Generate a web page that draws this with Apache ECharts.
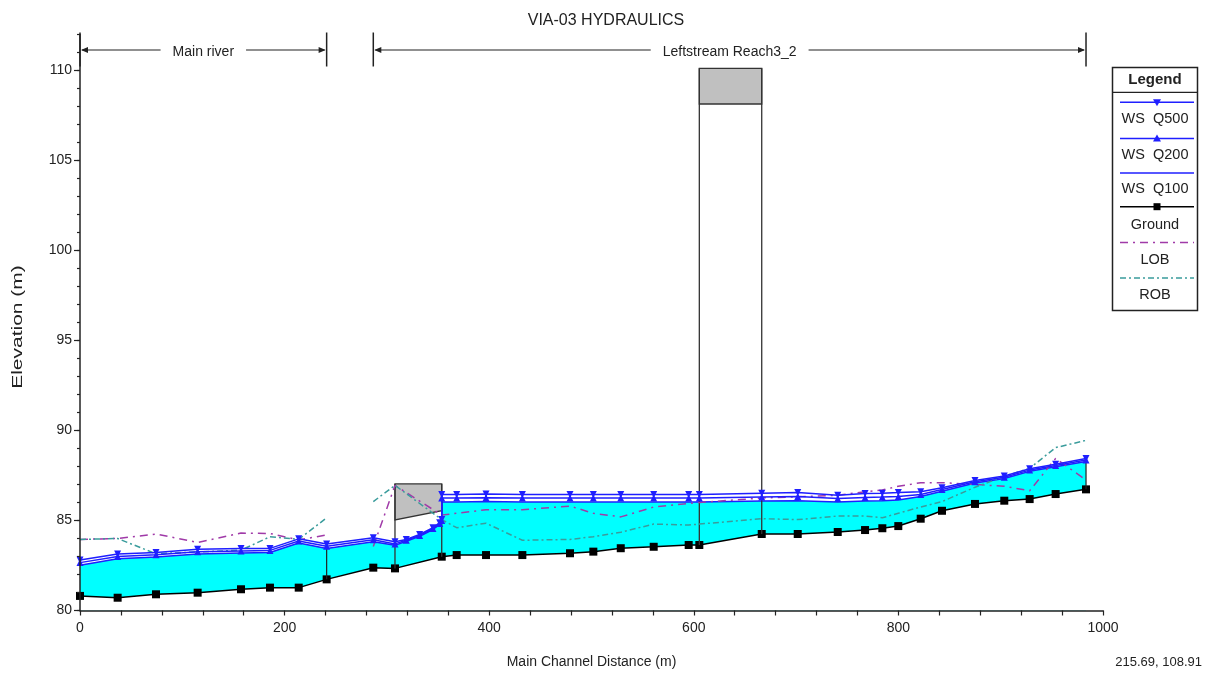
<!DOCTYPE html>
<html><head><meta charset="utf-8">
<script src="https://cdn.jsdelivr.net/npm/echarts@6/dist/echarts.min.js"></script>
<style>html,body{margin:0;padding:0;background:#fff}#c{width:1212px;height:679px}</style>
</head><body><div id="c"></div>
<script>
// ---------------- DATA ----------------
const chartTitle = 'VIA-03 HYDRAULICS';
const xAxisTitle = 'Main Channel Distance (m)';
const yAxisTitle = 'Elevation (m)';
const cursorReadout = '215.69, 108.91';

const groundStations = [0, 36.8, 74.3, 115, 157.4, 185.7, 213.8, 241.1, 286.7, 307.9, 353.6, 368.2, 396.9, 432.4, 479.0, 501.8, 528.6, 560.8, 595.0, 605.4, 666.4, 701.6, 740.7, 767.4, 784.3, 799.9, 821.8, 842.6, 874.9, 903.5, 928.3, 953.7, 983.4];
const groundElev = [80.81, 80.71, 80.90, 80.99, 81.18, 81.27, 81.27, 81.73, 82.38, 82.34, 82.99, 83.08, 83.08, 83.08, 83.18, 83.27, 83.46, 83.54, 83.64, 83.64, 84.25, 84.25, 84.36, 84.47, 84.57, 84.69, 85.10, 85.54, 85.92, 86.10, 86.19, 86.47, 86.73];
const lobElev = [83.95, 84.0, 84.25, 83.78, 84.3, 84.28, 83.92, 84.2, 83.55, 86.95, 85.3, 85.4, 85.6, 85.6, 85.8, 85.4, 85.2, 85.75, 85.95, 86.0, 86.25, 86.32, 86.4, 86.6, 86.7, 86.9, 87.1, 87.1, 87.0, 86.9, 86.65, 88.45, 87.25];
const robElev = [83.95, 84.0, 83.15, 83.25, 83.35, 84.1, 83.95, 85.15, 86.05, 86.95, 85.05, 84.6, 84.85, 83.9, 83.95, 84.1, 84.35, 84.8, 84.75, 84.8, 85.1, 85.05, 85.25, 85.25, 85.15, 85.4, 85.75, 86.05, 86.85, 87.45, 87.9, 89.05, 89.45];

const wsStations = [0, 36.8, 74.3, 115, 157.4, 185.7, 213.8, 241.1, 286.7, 307.9, 318.9, 332, 345, 351.6, 353.6, 353.6, 368.2, 396.9, 432.4, 479.0, 501.8, 528.6, 560.8, 595.0, 605.4, 666.4, 701.6, 740.7, 767.4, 784.3, 799.9, 821.8, 842.6, 874.9, 903.5, 928.3, 953.7, 983.4];
const wsQ100 = [82.52, 82.87, 82.97, 83.14, 83.19, 83.22, 83.75, 83.45, 83.82, 83.62, 83.85, 84.12, 84.5, 84.78, 84.95, 86.03, 86.03, 86.05, 86.03, 86.03, 86.03, 86.03, 86.03, 86.03, 86.03, 86.08, 86.1, 86.03, 86.08, 86.1, 86.14, 86.33, 86.63, 87.08, 87.33, 87.73, 87.98, 88.28];
const wsQ200 = [82.66, 83.0, 83.1, 83.27, 83.31, 83.34, 83.86, 83.57, 83.93, 83.7, 83.9, 84.17, 84.55, 84.83, 85.0, 86.25, 86.25, 86.27, 86.25, 86.25, 86.25, 86.25, 86.25, 86.25, 86.25, 86.3, 86.33, 86.22, 86.28, 86.3, 86.33, 86.45, 86.72, 87.15, 87.4, 87.8, 88.05, 88.36];
const wsQ500 = [82.8, 83.14, 83.22, 83.4, 83.44, 83.45, 83.98, 83.7, 84.04, 83.82, 83.95, 84.22, 84.6, 84.88, 85.05, 86.45, 86.45, 86.47, 86.45, 86.45, 86.45, 86.45, 86.45, 86.45, 86.45, 86.52, 86.56, 86.4, 86.5, 86.52, 86.55, 86.6, 86.82, 87.22, 87.47, 87.87, 88.12, 88.44];

const bridgeStart = [307.9, 605.4];
const bridgeEnd = [353.6, 666.4];
const bridgeLowChordStart = [85.03, 108.14];
const bridgeLowChordEnd = [85.55, 108.14];
const bridgeDeckTop = [87.03, 110.12];

const junctionStations = [241.1, 983.4];

const reachNames = ['Main river', 'Leftstream Reach3_2'];
const reachStart = [0, 286.7];
const reachEnd = [241.1, 983.4];

const xTickLabels = [0, 200, 400, 600, 800, 1000];
const yTickLabels = [80, 85, 90, 95, 100, 105, 110];
const seriesNames = ['WS  Q500', 'WS  Q200', 'WS  Q100', 'Ground', 'LOB', 'ROB'];

// ---------------- STYLE ----------------
const FONT = '"Liberation Sans", Arial, sans-serif';
const BLUE = '#1f1fff';
const CYAN = '#00ffff';
const PURPLE = '#a03aa8';
const TEAL = '#3a9c9c';
const TXT = '#222';

const zip = (xs, ys) => xs.map((x, i) => [x, ys[i]]);
const groundAt = s => groundElev[groundStations.indexOf(s)];
const wsQ100At = s => wsQ100[wsStations.lastIndexOf(s)];
// bank lines are drawn per reach (not joined across the junction)
const reachSplit = groundStations.indexOf(reachStart[1]);
const bankPieces = (elev) => [
  zip(groundStations.slice(0, reachSplit), elev.slice(0, reachSplit)),
  zip(groundStations.slice(reachSplit), elev.slice(reachSplit))
];

const chart = echarts.init(document.getElementById('c'), null, {renderer: 'canvas'});

function renderBridge(params, api) {
  const i = params.dataIndex;
  const s = bridgeStart[i], e = bridgeEnd[i];
  const tl = api.coord([s, bridgeDeckTop[i]]);
  const tr = api.coord([e, bridgeDeckTop[i]]);
  const br = api.coord([e, bridgeLowChordEnd[i]]);
  const bl = api.coord([s, bridgeLowChordStart[i]]);
  const gl = api.coord([s, groundAt(s)]);
  const gr = api.coord([e, groundAt(e)]);
  const st = {stroke: '#333', lineWidth: 1.3};
  return {type: 'group', children: [
    {type: 'polygon', shape: {points: [tl, tr, br, bl]}, style: {fill: '#c0c0c0', stroke: '#333', lineWidth: 1.3}},
    {type: 'line', shape: {x1: tl[0], y1: tl[1], x2: gl[0], y2: gl[1]}, style: st},
    {type: 'line', shape: {x1: tr[0], y1: tr[1], x2: gr[0], y2: gr[1]}, style: st}
  ]};
}

function renderJunction(params, api) {
  const s = junctionStations[params.dataIndex];
  const a = api.coord([s, groundAt(s)]);
  const b = api.coord([s, wsQ100At(s)]);
  return {type: 'line', shape: {x1: a[0], y1: a[1], x2: b[0], y2: b[1]}, style: {stroke: '#222', lineWidth: 1.2}};
}

function renderReach(params, api) {
  const i = params.dataIndex;
  const cs = params.coordSys;
  const x0 = api.coord([reachStart[i], 90])[0];
  const x1 = api.coord([reachEnd[i], 90])[0];
  const y = cs.y + 15.5;
  const st = {stroke: '#222', lineWidth: 1.2};
  return {type: 'group', children: [
    {type: 'line', shape: {x1: x0, y1: cs.y - 2, x2: x0, y2: cs.y + 32}, style: {stroke: '#222', lineWidth: 1.5}},
    {type: 'line', shape: {x1: x1, y1: cs.y - 2, x2: x1, y2: cs.y + 32}, style: {stroke: '#222', lineWidth: 1.5}},
    {type: 'line', shape: {x1: x0 + 2, y1: y, x2: x1 - 2, y2: y}, style: st},
    {type: 'polygon', shape: {points: [[x0 + 1, y], [x0 + 8, y - 3], [x0 + 8, y + 3]]}, style: {fill: '#222'}},
    {type: 'polygon', shape: {points: [[x1 - 1, y], [x1 - 8, y - 3], [x1 - 8, y + 3]]}, style: {fill: '#222'}},
    {type: 'text', x: (x0 + x1) / 2, y: y + 2, style: {text: reachNames[i], fill: TXT, font: '14px ' + FONT, align: 'center', verticalAlign: 'middle', backgroundColor: '#fff', padding: [2, 12]}}
  ]};
}

// Legend box (graphic)
const LX = 1112.5, LY = 67.5, LW = 85, LH = 243;
const legendRows = [
  {name: seriesNames[0], color: BLUE, mark: 'down', dash: null, ly: 102.3, ty: 119},
  {name: seriesNames[1], color: BLUE, mark: 'up', dash: null, ly: 138.5, ty: 155},
  {name: seriesNames[2], color: BLUE, mark: null, dash: null, ly: 173, ty: 189},
  {name: seriesNames[3], color: '#000', mark: 'sq', dash: null, ly: 206.7, ty: 225},
  {name: seriesNames[4], color: PURPLE, mark: null, dash: [8, 5, 2, 5], ly: 242.5, ty: 260},
  {name: seriesNames[5], color: TEAL, mark: null, dash: [6, 3, 2, 3], ly: 278, ty: 295}
];
const legendGraphics = [
  {type: 'rect', shape: {x: LX, y: LY, width: LW, height: LH}, style: {fill: '#fff', stroke: '#222', lineWidth: 1.5}, z: 100},
  {type: 'text', x: LX + LW / 2, y: 80, style: {text: 'Legend', font: 'bold 15px ' + FONT, fill: TXT, align: 'center', verticalAlign: 'middle'}, z: 101},
  {type: 'line', shape: {x1: LX, y1: 92.3, x2: LX + LW, y2: 92.3}, style: {stroke: '#222', lineWidth: 1.2}, z: 101}
];
legendRows.forEach(r => {
  legendGraphics.push({type: 'line', shape: {x1: 1120, y1: r.ly, x2: 1194, y2: r.ly}, style: {stroke: r.color, lineWidth: 1.5, lineDash: r.dash}, z: 101});
  const cx = 1157;
  if (r.mark === 'down') legendGraphics.push({type: 'polygon', shape: {points: [[cx - 4, r.ly - 3], [cx + 4, r.ly - 3], [cx, r.ly + 4]]}, style: {fill: r.color}, z: 102});
  if (r.mark === 'up') legendGraphics.push({type: 'polygon', shape: {points: [[cx - 4, r.ly + 3], [cx + 4, r.ly + 3], [cx, r.ly - 4]]}, style: {fill: r.color}, z: 102});
  if (r.mark === 'sq') legendGraphics.push({type: 'rect', shape: {x: cx - 3.5, y: r.ly - 3.5, width: 7, height: 7}, style: {fill: '#000'}, z: 102});
  legendGraphics.push({type: 'text', x: LX + LW / 2, y: r.ty, style: {text: r.name, font: '14.5px ' + FONT, fill: TXT, align: 'center', verticalAlign: 'middle'}, z: 101});
});
legendGraphics.push({type: 'text', right: 10, top: 656, style: {text: cursorReadout, font: '13px ' + FONT, fill: TXT}});
// y-axis title (stretched along its length like the reference)
legendGraphics.push({type: 'text', x: 18, y: 327, rotation: Math.PI / 2, scaleX: 1.5,
  style: {text: yAxisTitle, font: '14px ' + FONT, fill: TXT, align: 'center', verticalAlign: 'middle'}});

const [lobMain, lobReach] = bankPieces(lobElev);
const [robMain, robReach] = bankPieces(robElev);
const lobStyle = {color: PURPLE, width: 1.5, type: [8, 5, 2, 5]};
const robStyle = {color: TEAL, width: 1.5, type: [6, 3, 2, 3]};

const option = {
  backgroundColor: '#fff',
  animation: false,
  title: {text: chartTitle, left: 'center', top: 8, textStyle: {fontFamily: FONT, fontSize: 16, fontWeight: 'normal', color: TXT}},
  grid: {left: 80, right: 109, top: 34.5, bottom: 68.5, outerBoundsMode: 'none'},
  xAxis: {
    type: 'value', min: 0, max: 1000, interval: 40, z: 10,
    axisLine: {lineStyle: {color: '#222', width: 1.5}},
    axisTick: {length: 5, lineStyle: {color: '#222', width: 1.2}},
    axisLabel: {margin: 11, fontFamily: FONT, fontSize: 14, color: TXT, formatter: v => xTickLabels.includes(v) ? String(v) : ''},
    splitLine: {show: false},
    name: xAxisTitle, nameLocation: 'middle', nameGap: 45,
    nameTextStyle: {fontFamily: FONT, fontSize: 14, color: TXT}
  },
  yAxis: [{
    type: 'value', min: 80, max: 112, interval: 1, z: 10,
    axisLine: {lineStyle: {color: '#222', width: 1.5}},
    axisTick: {length: 3, lineStyle: {color: '#222', width: 1.2}},
    axisLabel: {margin: 8, fontFamily: FONT, fontSize: 14, color: TXT, formatter: v => yTickLabels.includes(v) ? String(v) : ''},
    splitLine: {show: false}
  }, {
    type: 'value', min: 80, max: 112, interval: 5, position: 'left', z: 10,
    axisLine: {show: false},
    axisTick: {length: 6, customValues: yTickLabels, lineStyle: {color: '#222', width: 1.2}},
    axisLabel: {show: false},
    splitLine: {show: false}
  }],
  graphic: legendGraphics,
  series: [
    {name: seriesNames[2], type: 'line', data: zip(wsStations, wsQ100), z: 2, symbol: 'none',
      lineStyle: {color: BLUE, width: 1.5}, itemStyle: {color: BLUE},
      areaStyle: {color: CYAN, opacity: 1, origin: 'start'}},
    {name: seriesNames[3], type: 'line', data: zip(groundStations, groundElev), z: 3, symbol: 'rect', symbolSize: 8,
      lineStyle: {color: '#000', width: 1.5}, itemStyle: {color: '#000'},
      areaStyle: {color: '#fff', opacity: 1, origin: 'start'}},
    {name: 'Bridges', type: 'custom', z: 4, renderItem: renderBridge,
      data: bridgeStart.map((s, i) => [s, bridgeDeckTop[i]])},
    {name: 'Junctions', type: 'custom', z: 4, renderItem: renderJunction,
      data: junctionStations.map(s => [s, groundAt(s)])},
    {name: seriesNames[4], type: 'line', data: lobMain, z: 5, symbol: 'none', lineStyle: lobStyle},
    {name: seriesNames[4], type: 'line', data: lobReach, z: 5, symbol: 'none', lineStyle: lobStyle},
    {name: seriesNames[5], type: 'line', data: robMain, z: 5, symbol: 'none', lineStyle: robStyle},
    {name: seriesNames[5], type: 'line', data: robReach, z: 5, symbol: 'none', lineStyle: robStyle},
    {name: seriesNames[1], type: 'line', data: zip(wsStations, wsQ200), z: 6, symbol: 'triangle', symbolSize: 7,
      lineStyle: {color: BLUE, width: 1.5}, itemStyle: {color: BLUE}},
    {name: seriesNames[0], type: 'line', data: zip(wsStations, wsQ500), z: 6, symbol: 'triangle', symbolSize: 7, symbolRotate: 180,
      lineStyle: {color: BLUE, width: 1.5}, itemStyle: {color: BLUE}},
    {name: 'Reaches', type: 'custom', z: 7, renderItem: renderReach, clip: false,
      data: reachStart.map((s, i) => [s, 90])}
  ]
};
chart.setOption(option);
</script>
</body></html>
